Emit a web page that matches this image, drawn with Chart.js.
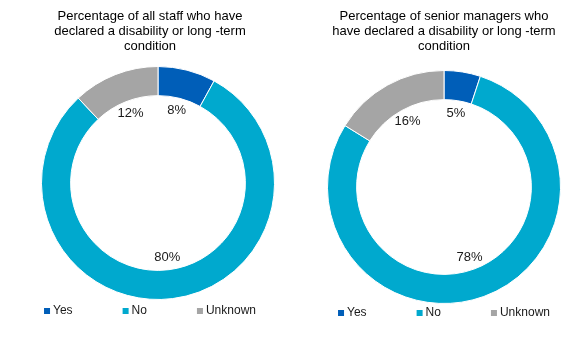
<!DOCTYPE html>
<html>
<head>
<meta charset="utf-8">
<script src="https://cdn.jsdelivr.net/npm/chart.js@4.4.1/dist/chart.umd.min.js"></script>
<style>
  html, body { margin: 0; padding: 0; background: #fff; overflow: hidden; }
  body { width: 584px; height: 340px; position: relative; }
  .panel { position: absolute; top: 0; width: 292px; height: 340px; }
</style>
</head>
<body>
<div class="panel" style="left:4px"><canvas id="allStaff" width="292" height="340"></canvas></div>
<div class="panel" style="left:298px"><canvas id="seniorManagers" width="292" height="340"></canvas></div>
<script>
const categories = ['Yes', 'No', 'Unknown'];
const allStaffPct = [8, 80, 12];
const seniorManagersPct = [5, 78, 16];
const allStaffTitle = ['Percentage of all staff who have', 'declared a disability or long -term', 'condition'];
const seniorManagersTitle = ['Percentage of senior managers who', 'have declared a disability or long -term', 'condition'];
const sliceColours = ['#005EB8', '#00A9CE', '#A5A5A5'];

const FONT = "'Liberation Sans', Arial, sans-serif";

// nudge the ring sideways without moving the title
const plotShift = {
  id: 'plotShift',
  afterLayout(chart, args, opts) {
    const dx = opts.dx || 0;
    chart.chartArea.left += dx;
    chart.chartArea.right += dx;
  }
};

// percentage labels just inside the hole
const ringLabels = {
  id: 'ringLabels',
  afterDatasetsDraw(chart) {
    const ctx = chart.ctx;
    const meta = chart.getDatasetMeta(0);
    const values = chart.data.datasets[0].data;
    ctx.save();
    ctx.font = '13px ' + FONT;
    ctx.fillStyle = '#1a1a1a';
    ctx.textAlign = 'center';
    ctx.textBaseline = 'middle';
    meta.data.forEach((arc, i) => {
      const p = arc.getProps(['x', 'y', 'startAngle', 'endAngle', 'innerRadius']);
      const a = (p.startAngle + p.endAngle) / 2;
      const r = p.innerRadius - 12.5;
      ctx.fillText(values[i] + '%', p.x + Math.cos(a) * r, p.y + Math.sin(a) * r);
    });
    ctx.restore();
  }
};

// Excel-style legend with wide gaps between entries
const wideLegend = {
  id: 'wideLegend',
  afterDraw(chart, args, opts) {
    const ctx = chart.ctx;
    const colours = chart.data.datasets[0].backgroundColor;
    const box = 6, textGap = 3, itemGap = 50;
    ctx.save();
    ctx.font = '12px ' + FONT;
    ctx.textBaseline = 'middle';
    ctx.textAlign = 'left';
    const widths = chart.data.labels.map(t => ctx.measureText(t).width);
    const total = widths.reduce((s, w) => s + box + textGap + w, 0) + itemGap * (widths.length - 1);
    let x = chart.width / 2 - total / 2;
    const y = opts.y;
    chart.data.labels.forEach((text, i) => {
      ctx.fillStyle = colours[i];
      ctx.fillRect(x, y - box / 2, box, box);
      ctx.fillStyle = '#1a1a1a';
      ctx.fillText(text, x + box + textGap, y);
      x += box + textGap + widths[i] + itemGap;
    });
    ctx.restore();
  }
};

function makeDoughnut(id, titleLines, values, opt) {
  return new Chart(document.getElementById(id), {
    type: 'doughnut',
    data: {
      labels: categories,
      datasets: [{
        data: values,
        backgroundColor: sliceColours,
        borderColor: '#ffffff',
        borderWidth: 1
      }]
    },
    options: {
      responsive: false,
      animation: false,
      cutout: '75%',
      layout: { padding: { top: 0, bottom: opt.bottom, left: 0, right: 0 } },
      plugins: {
        legend: { display: false },
        tooltip: { enabled: false },
        title: {
          display: true,
          text: titleLines,
          color: '#000',
          font: { family: FONT, size: 13, weight: 'normal', lineHeight: 1.15 },
          padding: { top: 9, bottom: opt.titleGap }
        },
        plotShift: { dx: opt.dx },
        wideLegend: { y: opt.legendY }
      }
    },
    plugins: [plotShift, ringLabels, wideLegend]
  });
}

makeDoughnut('allStaff', allStaffTitle, allStaffPct, { bottom: 40, titleGap: 12.15, dx: 8, legendY: 311 });
makeDoughnut('seniorManagers', seniorManagersTitle, seniorManagersPct, { bottom: 36, titleGap: 16.15, dx: 0, legendY: 313 });
</script>
</body>
</html>
